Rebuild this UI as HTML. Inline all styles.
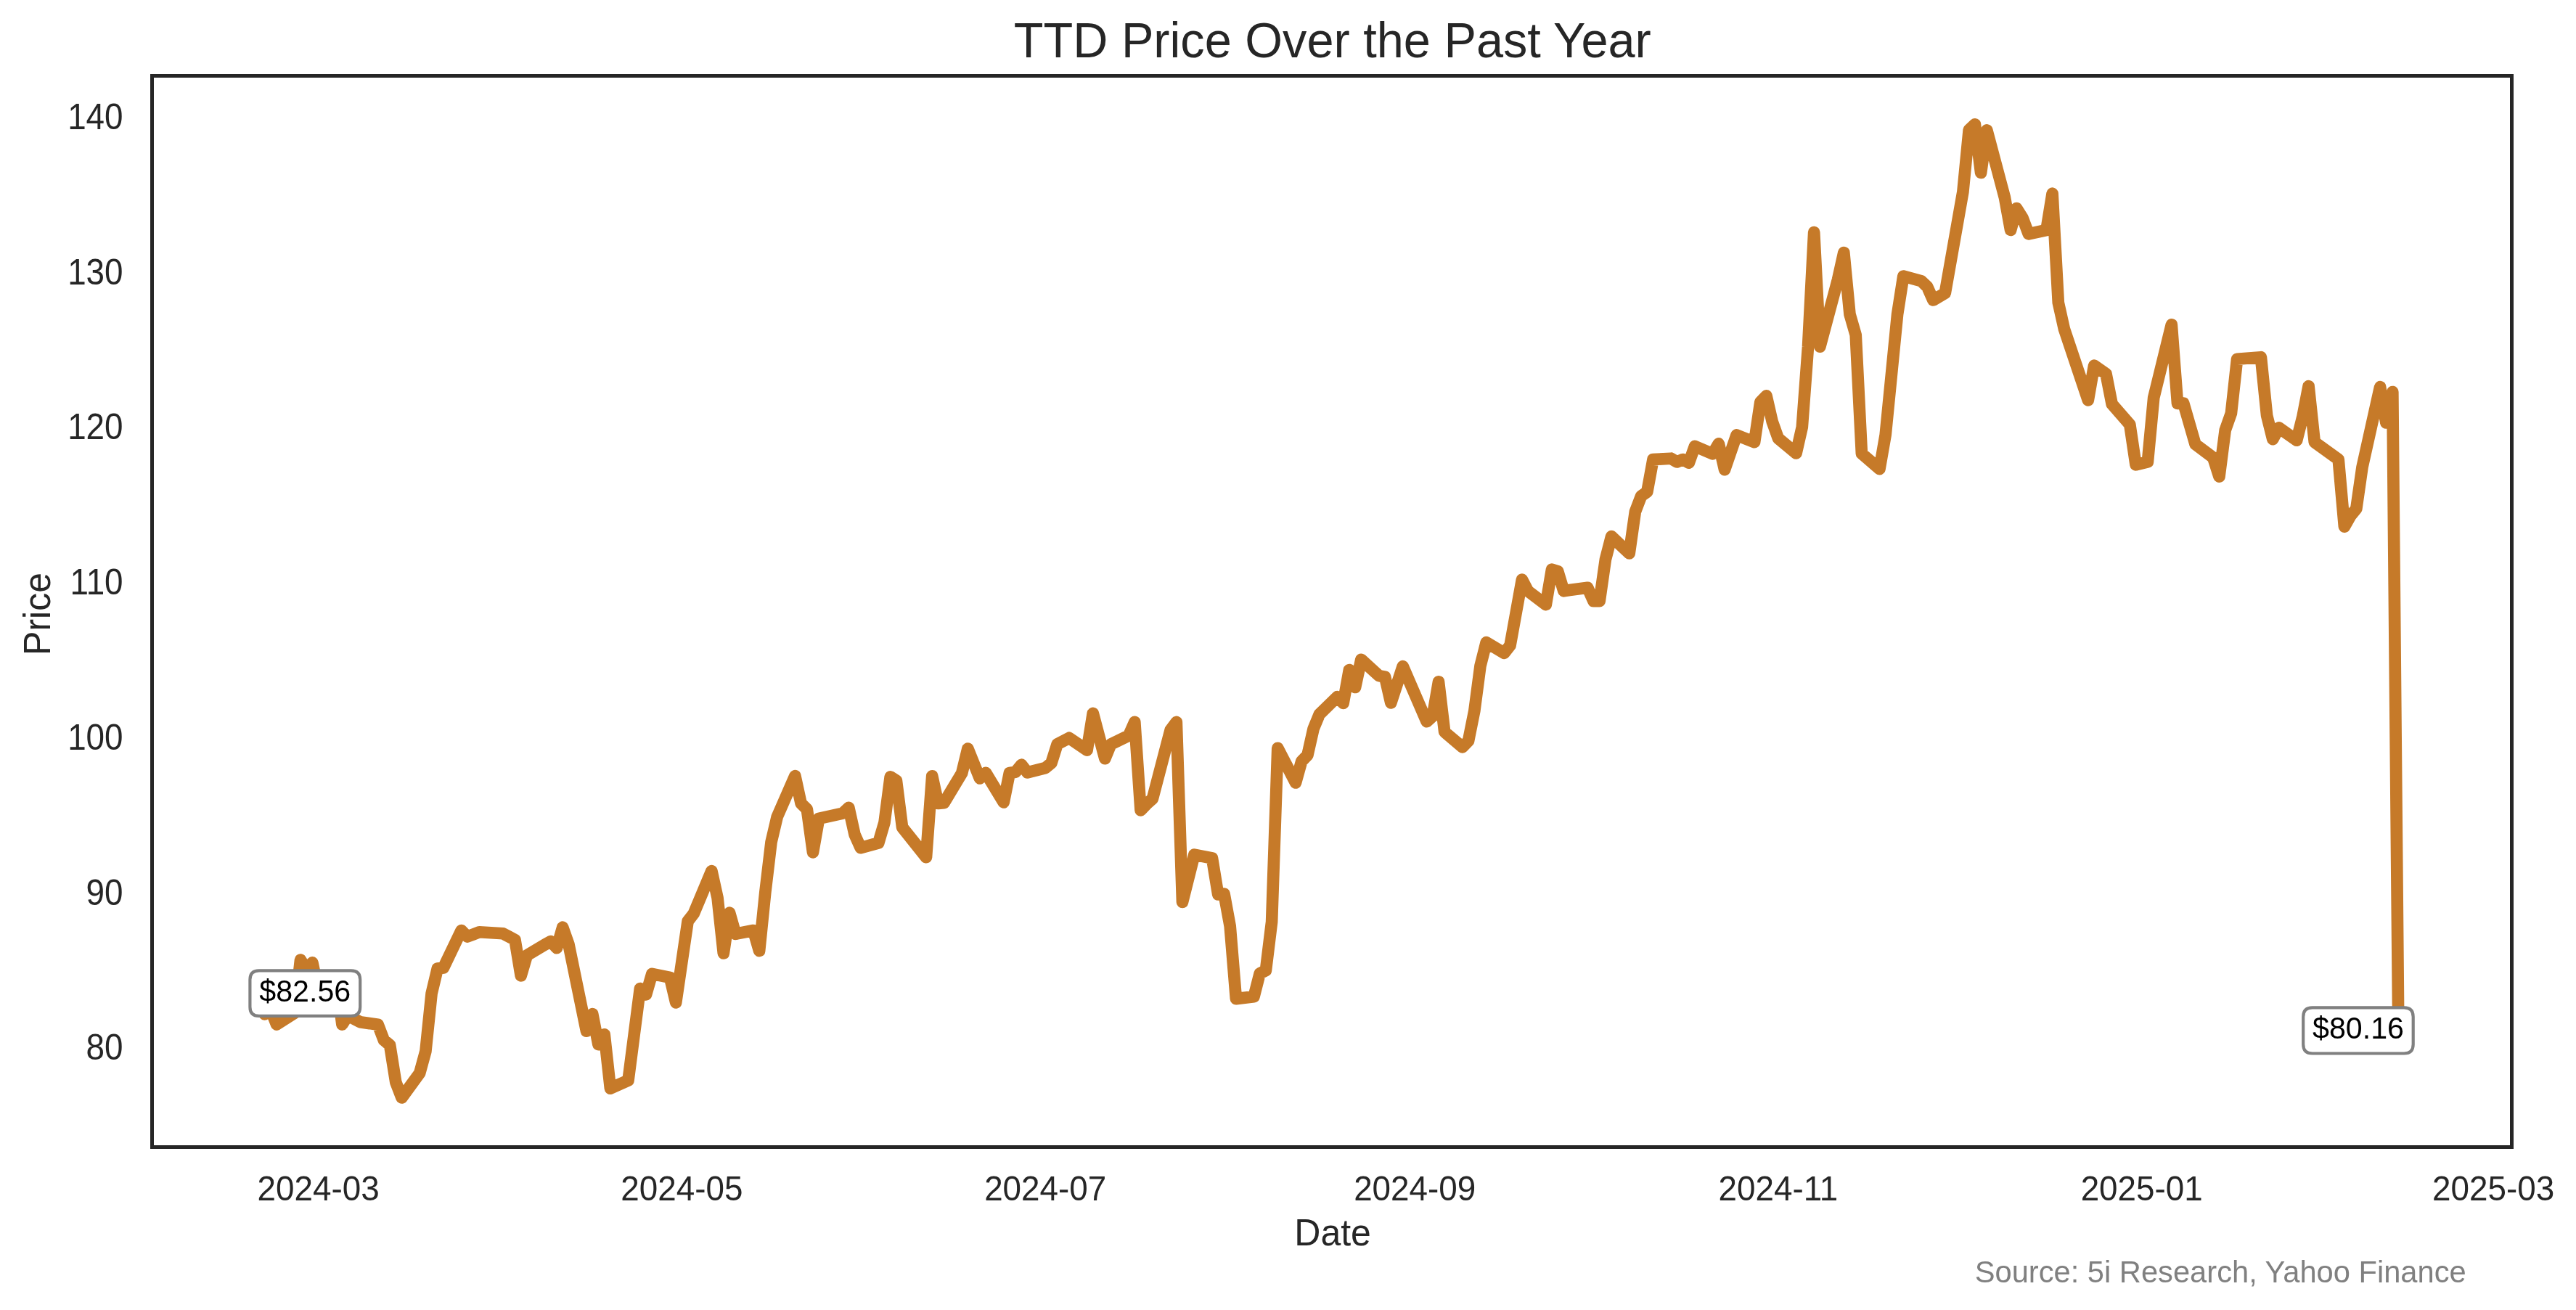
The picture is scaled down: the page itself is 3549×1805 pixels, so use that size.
<!DOCTYPE html>
<html><head><meta charset="utf-8"><title>TTD Price Over the Past Year</title>
<style>
html,body{margin:0;padding:0;background:#fff;}
body{width:3549px;height:1805px;overflow:hidden;}
svg{display:block;will-change:transform;}
text{font-family:"Liberation Sans",sans-serif;}
.ttl{font-size:66.67px;fill:#262626;}
.tick{font-size:45.83px;fill:#262626;}
.lab{font-size:50px;fill:#262626;}
.ann{font-size:41.2px;fill:#000;}
.src{font-size:41.67px;fill:#808080;}
</style></head><body>
<svg width="3549" height="1805" viewBox="0 0 3549 1805">
<rect x="0" y="0" width="3549" height="1805" fill="#ffffff"/>
<polyline fill="none" stroke="#C67A29" stroke-width="16.67" stroke-linejoin="round" stroke-linecap="square" points="356.5,1388.4 364.7,1397.5 372.9,1391.0 381.1,1411.6 405.8,1395.7 414.0,1322.6 422.2,1335.5 430.4,1326.4 438.6,1365.8 463.2,1347.0 471.4,1411.6 479.6,1398.8 487.9,1403.9 496.1,1408.2 520.7,1411.8 528.9,1433.2 537.1,1440.0 545.3,1491.2 553.5,1512.5 578.2,1478.6 586.4,1448.5 594.6,1368.9 602.8,1334.5 611.0,1333.4 635.6,1282.0 643.8,1290.6 652.0,1287.4 660.3,1284.3 693.1,1286.3 701.3,1290.6 709.5,1295.0 717.7,1344.3 725.9,1316.4 750.6,1301.6 758.8,1297.2 767.0,1306.2 775.2,1277.7 783.4,1301.0 808.0,1420.7 816.2,1397.2 824.4,1439.2 832.7,1425.4 840.9,1499.7 865.5,1488.7 873.7,1425.2 881.9,1362.0 890.1,1370.3 898.3,1341.8 923.0,1346.8 931.2,1381.4 939.4,1325.3 947.6,1269.4 955.8,1258.7 980.4,1200.1 988.6,1237.3 996.8,1313.4 1005.1,1257.7 1013.3,1286.8 1037.9,1282.0 1046.1,1310.1 1054.3,1229.6 1062.5,1160.4 1070.7,1125.5 1095.4,1069.2 1103.6,1107.0 1111.8,1115.0 1120.0,1174.4 1128.2,1127.8 1161.0,1120.6 1169.3,1112.9 1177.5,1149.8 1185.7,1168.2 1210.3,1161.4 1218.5,1133.3 1226.7,1070.4 1234.9,1075.5 1243.1,1140.0 1276.0,1181.2 1284.2,1069.4 1292.4,1107.0 1300.6,1106.1 1325.2,1065.3 1333.4,1031.5 1349.9,1072.5 1358.1,1064.9 1382.7,1105.5 1390.9,1064.9 1399.1,1063.8 1407.3,1053.7 1415.5,1064.4 1440.2,1058.2 1448.4,1051.4 1456.6,1025.4 1473.0,1016.8 1497.6,1033.6 1505.8,982.9 1522.3,1045.2 1530.5,1025.4 1555.1,1013.4 1563.3,994.9 1571.5,1116.4 1579.7,1107.9 1587.9,1100.5 1612.6,1006.0 1620.8,994.9 1629.0,1243.0 1645.4,1177.6 1670.0,1182.5 1678.2,1232.5 1686.5,1231.5 1694.7,1276.2 1702.9,1376.1 1727.5,1373.2 1735.7,1341.2 1743.9,1337.3 1752.1,1270.3 1760.3,1030.8 1785.0,1078.5 1793.2,1049.1 1801.4,1040.5 1809.6,1004.1 1817.8,984.3 1842.4,960.1 1850.6,968.9 1858.9,923.0 1867.1,947.0 1875.3,908.8 1899.9,931.1 1908.1,932.7 1916.3,968.4 1932.7,918.1 1965.6,994.2 1973.8,986.8 1982.0,939.4 1990.2,1008.5 2014.8,1029.4 2023.0,1021.0 2031.3,979.6 2039.5,917.5 2047.7,885.1 2072.3,899.9 2080.5,889.4 2096.9,798.7 2105.1,814.3 2129.8,833.1 2138.0,784.6 2146.2,787.1 2154.4,814.3 2162.6,813.1 2187.2,809.8 2195.5,828.2 2203.7,828.2 2211.9,770.9 2220.1,739.1 2244.7,762.5 2252.9,704.9 2261.1,683.5 2269.3,677.7 2277.5,633.1 2302.2,631.7 2310.4,636.4 2318.6,633.1 2326.8,637.7 2335.0,614.8 2359.6,625.3 2367.9,611.3 2376.1,647.1 2392.5,599.4 2417.1,609.2 2425.3,554.0 2433.5,545.4 2441.7,581.0 2449.9,604.0 2474.6,624.5 2482.8,588.5 2491.0,478.0 2499.2,320.0 2507.4,477.7 2532.0,385.4 2540.3,348.1 2548.5,433.0 2556.7,461.5 2564.9,625.0 2589.5,646.1 2597.7,599.1 2614.1,433.0 2622.3,380.5 2647.0,387.3 2655.2,395.1 2663.4,413.5 2679.8,403.8 2704.4,264.2 2712.7,179.0 2720.9,171.3 2729.1,238.0 2737.3,179.4 2761.9,272.0 2770.1,317.0 2778.3,287.1 2786.5,300.1 2794.8,322.3 2819.4,317.0 2827.6,266.7 2835.8,417.0 2844.0,453.7 2876.8,551.4 2885.1,503.7 2901.5,515.1 2909.7,556.8 2934.3,585.0 2942.5,640.3 2958.9,636.4 2967.2,548.1 2991.8,447.4 3000.0,555.9 3008.2,555.5 3024.6,612.2 3049.2,630.6 3057.5,656.6 3065.7,592.7 3073.9,569.5 3082.1,494.7 3114.9,492.2 3123.1,572.4 3131.3,605.2 3139.6,589.4 3164.2,606.7 3172.4,574.3 3180.6,532.2 3188.8,609.2 3221.7,633.0 3229.9,725.6 3238.1,711.1 3246.3,701.0 3254.5,643.8 3279.1,533.2 3287.3,582.5 3296.3,540.0 3304.5,1439.7"/>
<rect x="209.5" y="104.5" width="3251.0" height="1476.0" fill="none" stroke="#262626" stroke-width="5" stroke-linejoin="miter"/>

<text transform="translate(1835.8,78.8) scale(1,1.02)" text-anchor="middle" class="ttl">TTD Price Over the Past Year</text>
<text transform="translate(169.6,1460.3) scale(1,1.07)" text-anchor="end" class="tick">80</text>
<text transform="translate(169.6,1246.6) scale(1,1.07)" text-anchor="end" class="tick">90</text>
<text transform="translate(169.6,1032.9) scale(1,1.07)" text-anchor="end" class="tick">100</text>
<text transform="translate(169.6,819.1) scale(1,1.07)" text-anchor="end" class="tick">110</text>
<text transform="translate(169.6,605.4) scale(1,1.07)" text-anchor="end" class="tick">120</text>
<text transform="translate(169.6,391.7) scale(1,1.07)" text-anchor="end" class="tick">130</text>
<text transform="translate(169.6,178.0) scale(1,1.07)" text-anchor="end" class="tick">140</text>
<text transform="translate(438.6,1653.7) scale(1,1.045)" text-anchor="middle" class="tick">2024-03</text>
<text transform="translate(939.4,1653.7) scale(1,1.045)" text-anchor="middle" class="tick">2024-05</text>
<text transform="translate(1440.2,1653.7) scale(1,1.045)" text-anchor="middle" class="tick">2024-07</text>
<text transform="translate(1949.2,1653.7) scale(1,1.045)" text-anchor="middle" class="tick">2024-09</text>
<text transform="translate(2449.9,1653.7) scale(1,1.045)" text-anchor="middle" class="tick">2024-11</text>
<text transform="translate(2950.7,1653.7) scale(1,1.045)" text-anchor="middle" class="tick">2025-01</text>
<text transform="translate(3435.1,1653.7) scale(1,1.045)" text-anchor="middle" class="tick">2025-03</text>
<text transform="translate(1836.1,1716.3) scale(1,1.02)" text-anchor="middle" class="lab">Date</text>
<text transform="translate(68.8,846) rotate(-90) scale(1,1.03)" text-anchor="middle" class="lab">Price</text>
<text transform="translate(3397.7,1767.1) scale(1,1.02)" text-anchor="end" class="src">Source: 5i Research, Yahoo Finance</text>
<path d="M356.9,1337.3 L483.7,1337.3 Q496.2,1337.3 496.2,1349.8 L496.2,1387.4 Q496.2,1399.9 483.7,1399.9 L356.9,1399.9 Q344.4,1399.9 344.4,1387.4 L344.4,1349.8 Q344.4,1337.3 356.9,1337.3 Z" fill="#ffffff" stroke="#808080" stroke-width="4.17"/>
<text transform="translate(420.3,1379.5) scale(1,1.025)" text-anchor="middle" class="ann">$82.56</text>
<path d="M3185.7,1388.4 L3312.2,1388.4 Q3324.7,1388.4 3324.7,1400.9 L3324.7,1439.0 Q3324.7,1451.5 3312.2,1451.5 L3185.7,1451.5 Q3173.2,1451.5 3173.2,1439.0 L3173.2,1400.9 Q3173.2,1388.4 3185.7,1388.4 Z" fill="#ffffff" stroke="#808080" stroke-width="4.17"/>
<text transform="translate(3249.0,1431.2) scale(1,1.025)" text-anchor="middle" class="ann">$80.16</text>
</svg></body></html>
